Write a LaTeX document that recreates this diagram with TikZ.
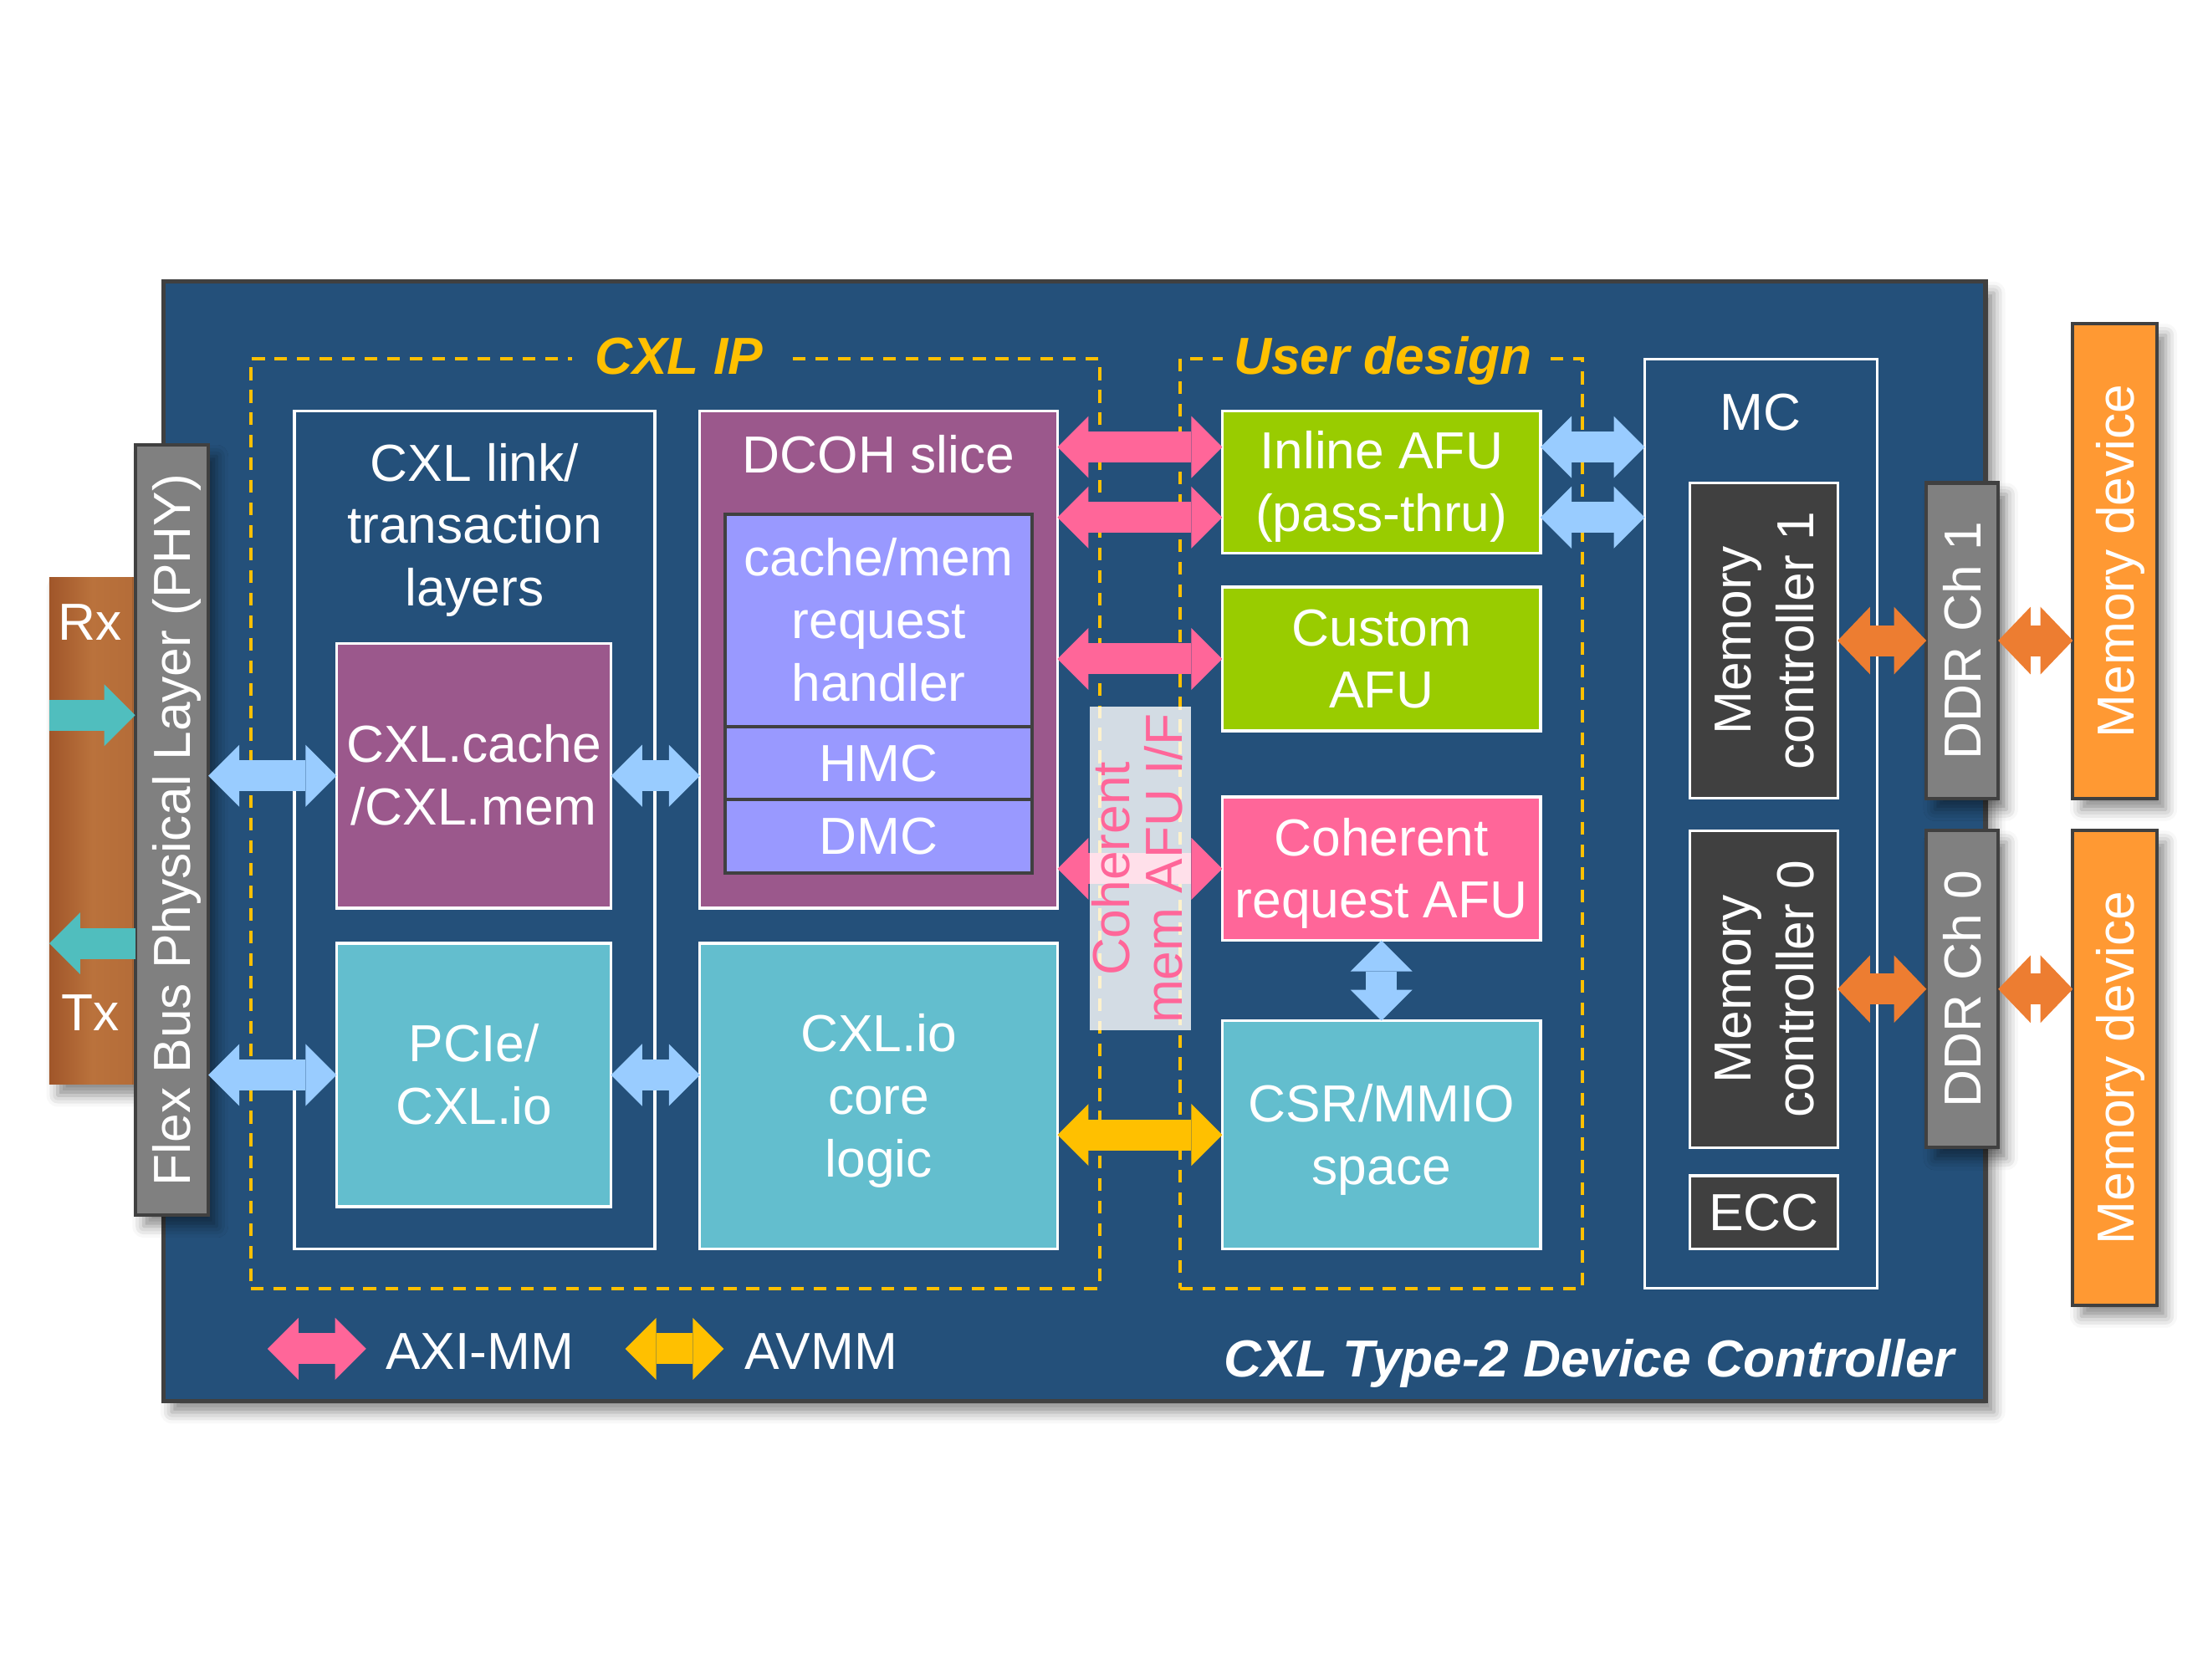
\documentclass[tikz,border=0pt]{standalone}
\usepackage{fontspec}
\setmainfont{Liberation Sans}
\usetikzlibrary{arrows.meta,shadows.blur,calc}
\definecolor{navy}{RGB}{36,80,122}
\definecolor{edgegray}{RGB}{64,64,64}
\definecolor{purp}{RGB}{155,88,140}
\definecolor{lav}{RGB}{153,153,255}
\definecolor{tealbox}{RGB}{99,190,206}
\definecolor{greenbox}{RGB}{153,204,0}
\definecolor{pinkc}{RGB}{255,102,153}
\definecolor{yell}{RGB}{255,192,0}
\definecolor{lblue}{RGB}{153,204,255}
\definecolor{orng}{RGB}{237,125,49}
\definecolor{memorange}{RGB}{255,153,51}
\definecolor{dgray}{RGB}{64,64,64}
\definecolor{phygray}{RGB}{128,128,128}
\definecolor{tealarrow}{RGB}{80,190,190}
\definecolor{brownL}{RGB}{160,86,42}
\definecolor{brownM}{RGB}{186,114,60}
\definecolor{brownR}{RGB}{180,108,56}
\newcommand\fs{\fontsize{18.5}{22.2}\selectfont}
\newcommand\ts{\rule{0pt}{0.905em}}
\newcommand\bs{\rule[-0.212em]{0pt}{0.212em}}
\newcommand\nodp[1]{\raisebox{0pt}[\height][0pt]{#1}}
\newcommand\rot[1]{\rotatebox{90}{\begin{tabular}{@{}c@{}}#1\end{tabular}}}
\newcommand\bx[7]{%
  \pgfmathsetmacro\bxcx{(#3+#5)/2}%
  \pgfmathsetmacro\bxcy{(#4+#6)/2}%
  \pgfmathsetmacro\bxw{(#5-#3)/2}%
  \pgfmathsetmacro\bxh{(#6-#4)/2}%
  \node[base, #2, minimum width=\bxw pt, minimum height=\bxh pt] (#1) at (\bxcx,\bxcy) {\ts #7\bs};%
}
\newcommand\rbx[8]{%
  \bx{#1}{#2}{#3}{#4}{#5}{#6}{}%
  \node[txt, xshift=#8] (#1-t) at (#1) {#7};%
}
\tikzset{
  base/.style={rectangle, inner sep=0pt, outer sep=0pt, text=white, align=center, font=\fs},
  txt/.style={inner sep=0pt, outer sep=0pt, text=white, align=center, font=\fs},
  wbox/.style={draw=white, line width=1pt},
  lavbox/.style={fill=lav, draw=edgegray, line width=1.2pt},
  dashbox/.style={draw=yell, line width=1.2pt, dash pattern=on 4.5pt off 3.5pt},
  ttl/.style={inner ysep=1pt, inner xsep=5pt, text=yell, fill=navy, font=\fs\bfseries\itshape, anchor=base},
  shad/.style={blur shadow={shadow xshift=3pt, shadow yshift=-4pt, shadow blur radius=4pt, shadow opacity=45}},
  gbox/.style={fill=phygray, draw=edgegray, line width=1.2pt, shad},
  obox/.style={fill=memorange, draw=edgegray, line width=1.2pt, shad},
  blk/.style={line width=11pt, arrows={Triangle[length=11pt,width=22pt,line width=0pt]-Triangle[length=11pt,width=22pt,line width=0pt]}},
  barr/.style={blk, draw=lblue},
  parr/.style={blk, draw=pinkc},
  yarr/.style={blk, draw=yell},
  oarr/.style={line width=11pt, draw=orng, arrows={Triangle[length=11.5pt,width=24pt,line width=0pt]-Triangle[length=11.5pt,width=24pt,line width=0pt]}},
  tarr/.style={line width=11pt, draw=tealarrow, arrows={-Triangle[length=11pt,width=22pt,line width=0pt]}},
}
\begin{document}
\begin{tikzpicture}[x=0.5pt,y=-0.5pt]
\useasboundingbox (0,0) rectangle (1568,1193);
% main controller box
\bx{main}{fill=navy, draw=edgegray, line width=1.5pt, shad}{116}{200}{1410}{995}{}
% Rx / Tx
\bx{rxtx}{left color=brownL, right color=brownR, middle color=brownM, shad}{35}{410}{96}{770}{}
\node[txt] (rx) at (64,442) {Rx};
\node[txt] (tx) at (64,719) {Tx};
\rbx{phy}{gbox}{96}{316}{148}{863}{\rotatebox{90}{\nodp{Flex Bus Physical Layer (PHY)}}}{0pt}
\coordinate (rxs) at (35,508);
\coordinate (txe) at (35,670);
\draw[tarr] (rxs) -- (rxs -| phy.west);
\draw[tarr] (txe -| phy.west) -- (txe);
% dashed groups
\bx{cxlip}{dashbox}{178}{255}{781}{915}{}
\bx{user}{dashbox}{838}{255}{1124}{915}{}
\node[ttl, inner xsep=8pt] (cxliptitle) at (482,266) {CXL IP};
\node[ttl, inner xsep=4pt] (usertitle) at (982,266) {User design};
% CXL IP content
\bx{link}{wbox}{209}{292}{465}{887}{}
\node[txt] (linktxt) at (337,373.2) {\ts CXL link/\\transaction\\layers\bs};
\bx{cache}{wbox, fill=purp}{239}{457}{434}{645}{CXL.cache\\/CXL.mem}
\bx{pcie}{wbox, fill=tealbox}{239}{670}{434}{857}{PCIe/\\CXL.io}
\bx{dcoh}{wbox, fill=purp}{497}{292}{751}{645}{}
\node[txt] (dcohtxt) at (624,323) {\ts DCOH slice\bs};
\bx{crh}{lavbox}{515}{365}{733}{516}{cache/mem\\request\\handler}
\bx{hmc}{lavbox}{515}{516}{733}{568}{HMC}
\bx{dmc}{lavbox}{515}{568}{733}{620}{DMC}
\bx{core}{wbox, fill=tealbox}{497}{670}{751}{887}{CXL.io\\core\\logic}
% user design content
\bx{inl}{wbox, fill=greenbox}{868}{292}{1094}{393}{Inline AFU\\(pass-thru)}
\bx{cust}{wbox, fill=greenbox}{868}{417}{1094}{519}{Custom\\AFU}
\bx{cra}{wbox, fill=pinkc}{868}{566}{1094}{668}{Coherent\\request AFU}
\bx{csr}{wbox, fill=tealbox}{868}{725}{1094}{887}{CSR/MMIO\\space}
% MC
\bx{mc}{wbox}{1168}{255}{1333}{915}{}
\node[txt] (mctxt) at (1250,293) {\ts MC\bs};
\rbx{mc1}{wbox, fill=dgray}{1200}{343}{1305}{567}{\rot{Memory\\controller 1}}{2.25pt}
\rbx{mc0}{wbox, fill=dgray}{1200}{590}{1305}{815}{\rot{Memory\\controller 0}}{2.25pt}
\bx{ecc}{wbox, fill=dgray}{1200}{835}{1305}{887}{ECC}
\rbx{ddr1}{gbox}{1368}{343}{1419}{567}{\rotatebox{90}{DDR Ch 1}}{0pt}
\rbx{ddr0}{gbox}{1368}{590}{1419}{815}{\rotatebox{90}{DDR Ch 0}}{0pt}
\rbx{md1}{obox}{1472}{230}{1532}{567}{\rotatebox{90}{\nodp{Memory device}}}{0pt}
\rbx{md0}{obox}{1472}{590}{1532}{927}{\rotatebox{90}{\nodp{Memory device}}}{0pt}
% arrows
\draw[barr] (cache.west -| phy.east) -- (cache.west);
\draw[barr] (pcie.west -| phy.east) -- (pcie.west);
\draw[barr] (cache.east) -- (cache.east -| dcoh.west);
\draw[barr] (pcie.east) -- (pcie.east -| core.west);
\draw[parr] ([yshift=12.5pt]inl.west -| dcoh.east) -- ([yshift=12.5pt]inl.west);
\draw[parr] ([yshift=-12.5pt]inl.west -| dcoh.east) -- ([yshift=-12.5pt]inl.west);
\draw[parr] (cust.west -| dcoh.east) -- (cust.west);
\draw[parr] (cra.west -| dcoh.east) -- (cra.west);
\draw[yarr] (csr.west -| core.east) -- (csr.west);
\draw[barr] ([yshift=12.5pt]inl.east) -- ([yshift=12.5pt]inl.east -| mc.west);
\draw[barr] ([yshift=-12.5pt]inl.east) -- ([yshift=-12.5pt]inl.east -| mc.west);
\draw[barr] (cra.south) -- (csr.north);
\draw[oarr] (mc1.east) -- (mc1.east -| ddr1.west);
\draw[oarr] (mc0.east) -- (mc0.east -| ddr0.west);
\draw[oarr] (ddr1.east) -- (ddr1.east -| md1.west);
\draw[oarr] (ddr0.east) -- (ddr0.east -| md0.west);
% coherent mem AFU interface (translucent)
\bx{cmaf}{fill=white, fill opacity=0.8}{774}{502}{846}{732}{}
\node[txt, text=pinkc, font=\fontsize{18.5}{18}\selectfont, xshift=1.5pt] (cmaf-t) at (cmaf) {\rot{Coherent\\mem AFU I/F}};
% legend
\coordinate (lg1a) at (190,958);
\coordinate (lg1b) at (260,958);
\coordinate (lg2a) at (444,958);
\coordinate (lg2b) at (514,958);
\draw[parr] (lg1a) -- (lg1b);
\draw[yarr] (lg2a) -- (lg2b);
\node[txt, anchor=west] (lgt1) at (274,960) {AXI-MM};
\node[txt, anchor=west] (lgt2) at (529,960) {AVMM};
\node[txt, font=\fs\bfseries\itshape, anchor=base east] (title) at (1388,978) {CXL Type-2 Device Controller};
\end{tikzpicture}
\end{document}
